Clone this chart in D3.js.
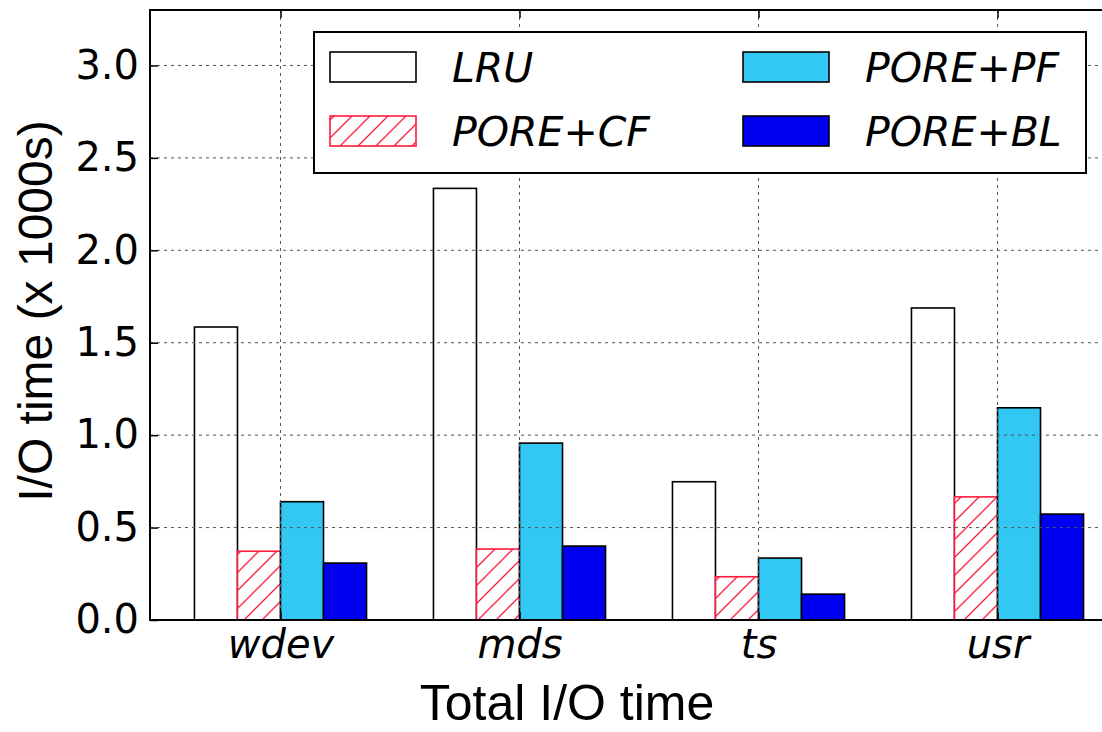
<!DOCTYPE html>
<html>
<head>
<meta charset="utf-8">
<script src="https://cdn.jsdelivr.net/npm/d3@7"></script>
<style>
  html, body { margin: 0; padding: 0; background: #fff; }
  svg { display: block; }
</style>
</head>
<body>
<svg id="chart" width="1102" height="732"></svg>
<script>
// Workloads on the x axis
const categories = ["wdev", "mds", "ts", "usr"];
// Policies, in bar order within a group
const seriesNames = ["LRU", "PORE+CF", "PORE+PF", "PORE+BL"];
// Total I/O time (x 1000 s) per workload, one array per policy
const lru    = [1.585, 2.335, 0.748, 1.688];
const poreCF = [0.372, 0.384, 0.234, 0.666];
const porePF = [0.640, 0.957, 0.335, 1.148];
const poreBL = [0.308, 0.400, 0.140, 0.573];
const yTicks = [0.0, 0.5, 1.0, 1.5, 2.0, 2.5, 3.0];

const seriesValues = [lru, poreCF, porePF, poreBL];

const svg = d3.select("#chart");
const W = 1102, H = 732;
svg.append("rect").attr("width", W).attr("height", H).attr("fill", "#fff");

// Plot area (right edge runs past the canvas)
const plotL = 150, plotR = 1128, plotT = 10, plotB = 620;

const x = d3.scalePoint().domain(categories).range([plotL, plotR]).padding(0.546);
const step = x.step();
const inner = d3.scaleBand().domain(seriesNames)
  .range([-0.36 * step, 0.36 * step]).paddingInner(0).paddingOuter(0);
const y = d3.scaleLinear().domain([0, 3.3]).range([plotB, plotT]);

// Hatch pattern for the PORE+CF bars
const defs = svg.append("defs");
const pat = defs.append("pattern")
  .attr("id", "hatch").attr("patternUnits", "userSpaceOnUse")
  .attr("width", 18).attr("height", 18);
pat.append("rect").attr("width", 18).attr("height", 18).attr("fill", "#fff");
pat.append("path")
  .attr("d", "M0,18 L18,0 M-4.5,4.5 L4.5,-4.5 M13.5,22.5 L22.5,13.5")
  .attr("stroke", "#ff1a3c").attr("stroke-width", 1.3);

const styles = {
  "LRU":     { fill: "#ffffff", stroke: "#000" },
  "PORE+CF": { fill: "url(#hatch)", stroke: "#ff1a3c" },
  "PORE+PF": { fill: "#33c8f4", stroke: "#000" },
  "PORE+BL": { fill: "#0000f0", stroke: "#000" }
};

const clip = defs.append("clipPath").attr("id", "plotclip");
clip.append("rect").attr("x", plotL).attr("y", plotT)
  .attr("width", plotR - plotL).attr("height", plotB - plotT);

// Bars
const barLayer = svg.append("g");
seriesNames.forEach((name, si) => {
  barLayer.append("g").selectAll("rect")
    .data(categories.map((c, i) => ({ c, v: seriesValues[si][i] })))
    .join("rect")
    .attr("x", d => x(d.c) + inner(name))
    .attr("y", d => y(d.v))
    .attr("width", inner.bandwidth())
    .attr("height", d => y(0) - y(d.v))
    .attr("fill", styles[name].fill)
    .attr("stroke", styles[name].stroke)
    .attr("stroke-width", 1.6);
});

// Grid lines (drawn over the bars)
const grid = svg.append("g").attr("clip-path", "url(#plotclip)")
  .attr("stroke", "#555").attr("stroke-width", 1).attr("stroke-dasharray", "3,4");
grid.selectAll("line.h").data(yTicks.filter(t => t > 0)).join("line")
  .attr("class", "h")
  .attr("x1", plotL).attr("x2", plotR).attr("y1", d => y(d)).attr("y2", d => y(d));
grid.selectAll("line.v").data(categories).join("line")
  .attr("class", "v")
  .attr("x1", d => x(d)).attr("x2", d => x(d)).attr("y1", plotT).attr("y2", plotB);

// Axes: ticks point inward, labels outside
const yAxis = d3.axisLeft(y).tickValues(yTicks).tickFormat(d3.format(".1f"))
  .tickSizeInner(-8).tickSizeOuter(0).tickPadding(11);
const gy = svg.append("g").attr("transform", `translate(${plotL},0)`).call(yAxis);
gy.select(".domain").remove();
gy.selectAll(".tick line").attr("stroke", "#000").attr("stroke-width", 1.5);
gy.selectAll(".tick text").attr("font-family", "DejaVu Sans").attr("font-size", 40)
  .attr("fill", "#000");

const xAxis = d3.axisBottom(x).tickSizeInner(-8).tickSizeOuter(0).tickPadding(14);
const gx = svg.append("g").attr("transform", `translate(0,${plotB})`).call(xAxis);
gx.select(".domain").remove();
gx.selectAll(".tick line").attr("stroke", "#000").attr("stroke-width", 1.5);
gx.selectAll(".tick text").attr("font-family", "DejaVu Sans").attr("font-style", "italic")
  .attr("font-size", 40).attr("fill", "#000").attr("dy", "0.6em");

const xTop = d3.axisTop(x).tickSizeInner(-8).tickSizeOuter(0).tickFormat("");
const gxt = svg.append("g").attr("transform", `translate(0,${plotT})`).call(xTop);
gxt.select(".domain").remove();
gxt.selectAll(".tick line").attr("stroke", "#000").attr("stroke-width", 1.5);

// Frame
svg.append("rect").attr("x", plotL).attr("y", plotT)
  .attr("width", plotR - plotL).attr("height", plotB - plotT)
  .attr("fill", "none").attr("stroke", "#000").attr("stroke-width", 2);

// Axis titles
svg.append("text")
  .attr("transform", `translate(52,${(plotT + plotB) / 2 - 4}) rotate(-90)`)
  .attr("text-anchor", "middle")
  .attr("font-family", "Liberation Sans, Arial, sans-serif").attr("font-size", 48)
  .attr("fill", "#000").text("I/O time (x 1000s)");

svg.append("text")
  .attr("x", 567).attr("y", 720)
  .attr("text-anchor", "middle")
  .attr("font-family", "Liberation Sans, Arial, sans-serif").attr("font-size", 50)
  .attr("fill", "#000").text("Total I/O time");

// Legend
const legend = svg.append("g");
legend.append("rect").attr("x", 314).attr("y", 32).attr("width", 772).attr("height", 141)
  .attr("fill", "#fff").attr("stroke", "#000").attr("stroke-width", 2);
const legendPos = [
  { name: "LRU",     sx: 330, tx: 452, row: 0 },
  { name: "PORE+CF", sx: 330, tx: 452, row: 1 },
  { name: "PORE+PF", sx: 743, tx: 865, row: 0 },
  { name: "PORE+BL", sx: 743, tx: 865, row: 1 }
];
legendPos.forEach(p => {
  const ry = 52 + p.row * 64;
  legend.append("rect").attr("x", p.sx).attr("y", ry).attr("width", 86).attr("height", 30)
    .attr("fill", styles[p.name].fill).attr("stroke", styles[p.name].stroke).attr("stroke-width", 1.6);
  legend.append("text").attr("x", p.tx).attr("y", ry + 30)
    .attr("font-family", "DejaVu Sans").attr("font-style", "italic").attr("font-size", 41)
    .attr("fill", "#000").text(p.name);
});
</script>
</body>
</html>
